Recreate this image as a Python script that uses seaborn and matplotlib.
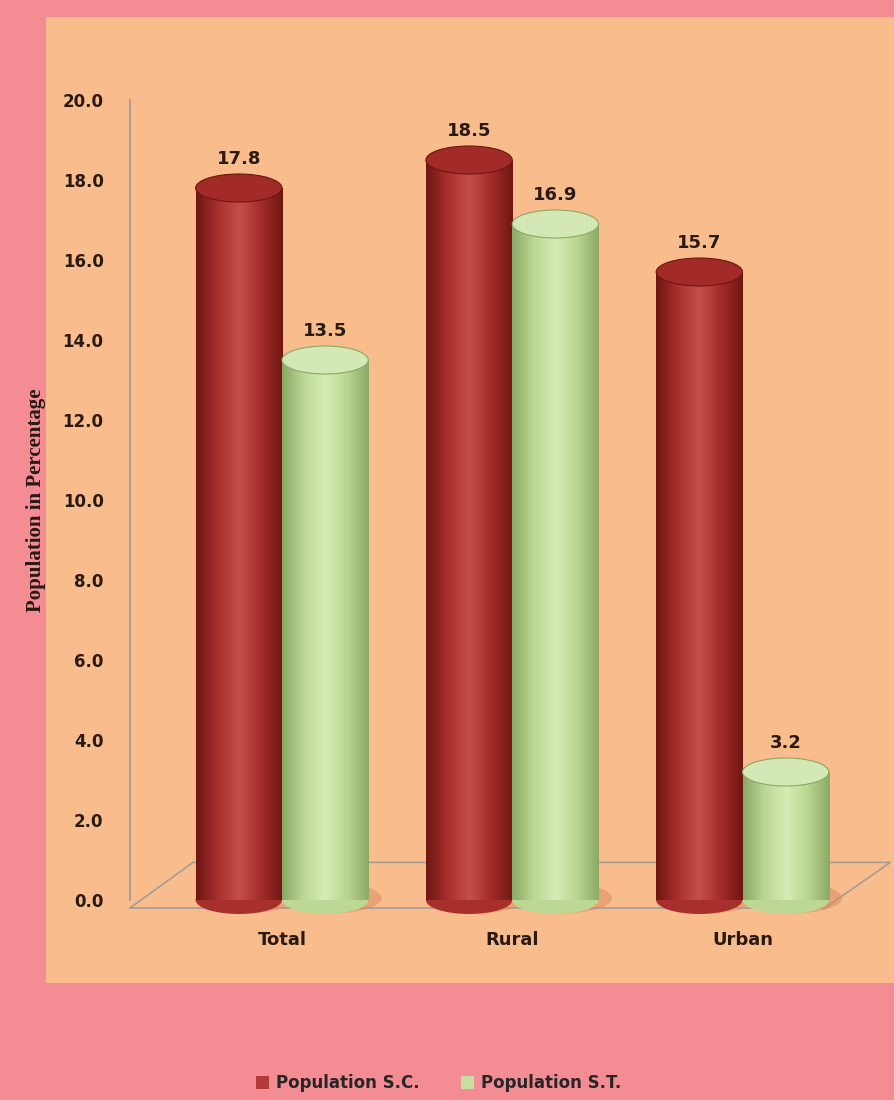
import numpy as np
import pandas as pd
import matplotlib
matplotlib.use('Agg')
import matplotlib.pyplot as plt
from matplotlib.patches import Ellipse, Patch
from matplotlib.colors import LinearSegmentedColormap
import seaborn as sns

# data
categories = ['Total', 'Rural', 'Urban']
series = ['Population S.C.', 'Population S.T.']
sc_values = [17.8, 18.5, 15.7]
st_values = [13.5, 16.9, 3.2]
y_ticks = [0, 2, 4, 6, 8, 10, 12, 14, 16, 18, 20]

df = pd.DataFrame({
    'category': categories * 2,
    'series': [series[0]] * 3 + [series[1]] * 3,
    'value': sc_values + st_values,
})

PINK = '#F48C94'
PANEL = '#F9BD8D'
colors = {series[0]: '#B43C38', series[1]: '#C6DF9F'}
shades = {
    series[0]: ['#6E1612', '#A8302C', '#C4504B', '#A32C28', '#701713'],
    series[1]: ['#8AA866', '#BCD894', '#D6EBB4', '#BAD690', '#8CAA66'],
}
caps = {series[0]: '#A22A27', series[1]: '#D4E8B6'}

sns.set_theme(style='white')
plt.rcParams['font.family'] = ['DejaVu Sans']

fig = plt.figure(figsize=(8.95, 11.0), dpi=100)
fig.patch.set_facecolor(PINK)

# orange chart panel in a background axes
bg = fig.add_axes([0, 0, 1, 1], zorder=0)
bg.set_axis_off()
bg.set_xlim(0, 895)
bg.set_ylim(1100, 0)
bg.add_patch(plt.Rectangle((46, 17), 860, 966, facecolor=PANEL, edgecolor='none'))

ax = fig.add_axes([130 / 895, 200 / 1100, 700 / 895, 800 / 1100], zorder=1)
ax.set_facecolor('none')

sns.barplot(data=df, x='category', y='value', hue='series', order=categories,
            hue_order=series, palette=colors, width=0.75, saturation=1,
            edgecolor='none', legend=False, ax=ax)

ax.set_yticks(y_ticks)
ax.set_yticklabels([f'{t:.1f}' for t in y_ticks], fontsize=12, fontweight='heavy',
                   color='#2A1A14')
ax.tick_params(axis='y', length=0, pad=19)
ax.tick_params(axis='x', length=0, pad=22)
for lab in ax.get_xticklabels():
    lab.set_fontsize(13)
    lab.set_fontweight('heavy')
    lab.set_color('#2A1A14')
ax.set_xlabel('')
ax.set_ylabel('Population in Percentage', fontsize=15, fontweight='bold',
              family='Liberation Serif', color='#2A1A14', labelpad=12)

for side in ['top', 'right', 'bottom']:
    ax.spines[side].set_visible(False)
ax.spines['left'].set_color('#9A9A9A')
ax.spines['left'].set_linewidth(1.2)

# floor outline (3D base look)
floor_x = [0.0, 0.993, 1.086, 0.09, 0.0]
floor_y = [-0.01, -0.01, 0.047, 0.047, -0.01]
ax.plot(floor_x, floor_y, transform=ax.transAxes, color='#A59C96', lw=1.2,
        clip_on=False, zorder=1)

cap_h = 0.7
bars = [p for p in ax.patches if p.get_height() > 0]
for i, bar in enumerate(bars):
    s = series[i // len(categories)]
    x0, w, h = bar.get_x(), bar.get_width(), bar.get_height()
    cmap = LinearSegmentedColormap.from_list('cyl', shades[s])
    grad = np.linspace(0, 1, 200).reshape(1, -1)
    im = ax.imshow(grad, cmap=cmap, aspect='auto', extent=(x0, x0 + w, 0, h),
                   zorder=3)
    im.set_clip_path(bar)
    bar.set_zorder(2)
    # soft shadow on the floor
    ax.add_patch(Ellipse((x0 + w / 2 + 0.03, 0.05), w * 1.15, cap_h * 1.1,
                         facecolor='#D98E5E', alpha=0.55, edgecolor='none',
                         zorder=1.5, clip_on=False))
    # rounded bottom and top cap
    ax.add_patch(Ellipse((x0 + w / 2, 0), w, cap_h, facecolor=shades[s][1],
                         edgecolor='none', zorder=2.9, clip_on=False))
    ax.add_patch(Ellipse((x0 + w / 2, h), w, cap_h, facecolor=caps[s],
                         edgecolor=shades[s][0], lw=0.8, zorder=4))
    ax.text(x0 + w / 2, h + cap_h / 2 + 0.15, f'{h:.1f}', ha='center', va='bottom',
            fontsize=13, fontweight='heavy', color='#2A1A14', zorder=5)

ax.set_xlim(-0.66, 2.38)
ax.set_ylim(0, 20)

handles = [Patch(facecolor=colors[s], edgecolor='none') for s in series]
fig.legend(handles, series, loc='center', bbox_to_anchor=(0.49, 1 - 1083 / 1100),
           ncol=2, frameon=False, handlelength=0.8, handleheight=0.8,
           columnspacing=2.5, handletextpad=0.4,
           prop={'weight': 'heavy', 'size': 12})

fig.savefig('out.png', dpi=100, facecolor=fig.get_facecolor())
